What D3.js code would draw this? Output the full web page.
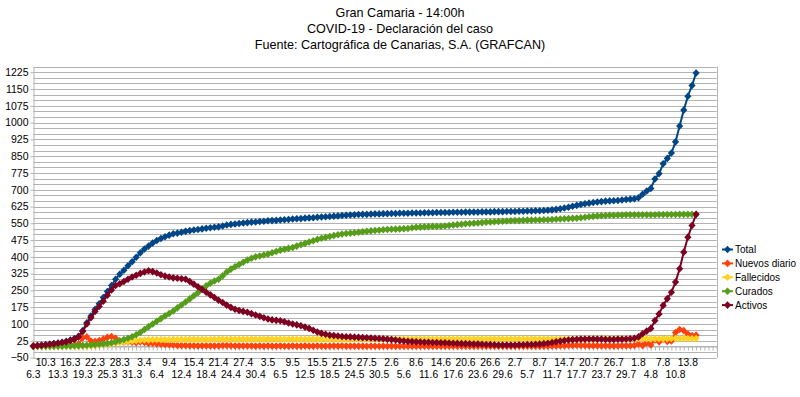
<!DOCTYPE html>
<html><head><meta charset="utf-8">
<script src="https://cdn.jsdelivr.net/npm/d3@7"></script>
<style>
body{margin:0;background:#fff}
svg{display:block}
text{font-family:"Liberation Sans",Arial,sans-serif;fill:#000}
</style>
</head><body>
<svg id="chart" width="800" height="397"></svg>
<script>
// ---- categories (dates); trailing empty slots have no data ----
const categories = [
 "6.3","8.3","9.3","10.3","11.3","12.3","13.3","14.3","15.3","16.3","17.3","18.3","19.3","20.3","21.3","22.3","23.3","24.3","25.3","26.3","27.3","28.3","29.3","30.3","31.3",
 "1.4","2.4","3.4","4.4","5.4","6.4","7.4","8.4","9.4","10.4","11.4","12.4","13.4","14.4","15.4","16.4","17.4","18.4","19.4","20.4","21.4","22.4","23.4","24.4","25.4","26.4","27.4","28.4","29.4","30.4",
 "1.5","2.5","3.5","4.5","5.5","6.5","7.5","8.5","9.5","10.5","11.5","12.5","13.5","14.5","15.5","16.5","17.5","18.5","19.5","20.5","21.5","22.5","23.5","24.5","25.5","26.5","27.5","28.5","29.5","30.5","31.5",
 "1.6","2.6","3.6","4.6","5.6","6.6","7.6","8.6","9.6","10.6","11.6","12.6","13.6","14.6","15.6","16.6","17.6","18.6","19.6","20.6","21.6","22.6","23.6","24.6","25.6","26.6","27.6","28.6","29.6","30.6",
 "1.7","2.7","3.7","4.7","5.7","6.7","7.7","8.7","9.7","10.7","11.7","12.7","13.7","14.7","15.7","16.7","17.7","18.7","19.7","20.7","21.7","22.7","23.7","24.7","25.7","26.7","27.7","28.7","29.7","30.7","31.7",
 "1.8","2.8","3.8","4.8","5.8","6.8","7.8","8.8","9.8","10.8","11.8","12.8","13.8","14.8","15.8",
 "","","","",""
];

const total = [
 1,3,5,7,9,12,15,18,22,28,
 35,45,70,105,135,165,190,218,245,272,
 300,322,340,360,378,398,418,435,448,462,
 473,482,490,497,503,506,510,514,517,520,
 522,525,528,530,532,534,538,542,545,547,
 549,551,553,555,556,558,559,561,562,563,
 565,566,567,569,570,571,573,574,575,577,
 578,579,580,582,583,585,586,587,588,589,
 590,590,591,592,592,593,593,594,594,595,
 595,595,596,596,596,597,597,597,598,598,
 598,598,599,599,599,600,600,600,600,601,
 601,601,602,602,602,603,603,603,604,604,
 605,605,606,606,607,608,610,612,615,618,
 622,626,630,634,637,640,643,645,647,649,
 650,651,652,654,656,658,660,664,680,694,
 706,748,772,816,840,864,914,985,1056,1118,
 1166,1222
];

const nuevos = [
 1,2,2,2,2,3,3,3,4,6,
 7,10,38,42,24,22,26,32,40,44,
 36,22,18,20,18,16,20,17,13,14,
 11,9,8,7,6,4,4,4,3,3,
 2,3,3,2,2,2,4,4,3,2,
 2,2,2,2,1,2,1,2,1,1,
 2,1,1,2,1,1,2,1,1,2,
 1,1,1,2,1,2,1,1,1,1,
 1,0,1,1,0,1,0,1,0,1,
 0,0,1,0,0,1,0,0,1,0,
 0,0,1,0,0,1,0,0,0,1,
 0,0,1,0,0,1,0,0,1,0,
 1,0,1,0,1,1,2,2,3,3,
 4,4,5,4,4,3,3,3,2,3,
 2,2,2,3,3,3,4,10,4,15,
 6,28,20,32,22,24,62,75,70,55,
 48,50
];

const fallecidos = [
 0,0,0,0,0,0,0,0,0,0,
 0,0,1,1,3,4,6,8,10,12,
 15,17,20,22,24,25,27,28,29,30,
 30,30,30,30,31,31,31,31,31,31,
 31,31,31,31,32,32,32,32,32,32,
 32,32,32,32,32,32,32,32,32,32,
 32,32,32,32,32,32,32,32,32,32,
 32,32,32,32,32,32,32,33,33,33,
 33,33,33,33,33,33,33,33,33,33,
 33,33,33,33,33,33,33,33,33,33,
 33,33,33,33,33,33,33,33,33,33,
 33,33,33,33,33,33,33,33,33,33,
 33,33,33,33,33,33,33,33,33,33,
 33,33,33,33,33,33,33,34,34,34,
 34,34,34,34,34,34,34,34,34,34,
 34,34,34,34,34,35,35,35,35,35,
 35,35
];

const curados = [
 0,0,0,0,0,1,1,1,2,2,
 3,3,4,5,6,7,9,11,13,16,
 20,25,30,36,43,52,62,75,88,100,
 112,124,136,147,158,172,185,198,212,226,
 240,256,270,282,292,300,315,332,345,356,
 366,376,386,394,400,404,408,412,418,424,
 430,434,438,442,448,454,460,466,472,478,
 483,487,491,495,499,502,504,506,508,510,
 512,514,516,518,519,521,522,523,524,525,
 526,527,530,532,533,534,535,536,536,537,
 538,540,542,544,546,548,549,550,551,553,
 555,556,557,558,559,560,561,562,562,563,
 564,564,565,565,566,566,567,568,569,570,
 571,572,573,575,577,579,581,583,584,585,
 586,586,587,587,588,588,588,588,588,588,
 588,588,589,589,589,589,589,590,590,590,
 590,590
];

const activos = [
 1,3,5,7,9,11,14,17,20,26,
 32,42,66,100,128,156,178,202,228,252,
 272,280,290,300,310,318,326,332,338,334,
 328,320,314,310,306,304,302,300,290,278,
 266,254,242,230,218,206,196,184,174,166,
 160,156,152,146,140,134,128,122,118,116,
 114,110,104,100,96,92,86,80,72,64,
 58,54,50,48,46,44,43,42,41,40,
 39,38,37,36,35,34,32,30,28,26,
 24,22,21,20,19,18,18,17,17,16,
 16,15,14,13,12,12,11,10,10,9,
 8,8,7,6,6,6,6,6,7,7,
 8,8,9,10,12,14,17,20,23,26,
 28,30,31,32,32,33,33,32,32,31,
 31,31,32,32,33,34,36,42,56,68,
 80,115,145,183,213,242,287,347,421,488,
 540,590
];

const seriesNames = ["Total","Nuevos diario","Fallecidos","Curados","Activos"];
const seriesColors = ["#004586","#ff420e","#ffd320","#579d1c","#7e0021"];
const seriesValues = [total, nuevos, fallecidos, curados, activos];

const yTickLabels = d3.range(-50, 1226, 75);
const yGrid = d3.range(-50, 1251, 25);
const titleLines = ["Gran Camaria - 14:00h","COVID-19 - Declaración del caso","Fuente: Cartográfica de Canarias, S.A. (GRAFCAN)"];

// ---- drawing ----
const FONT = '"Liberation Sans",Arial,sans-serif';
const svg = d3.select("#chart");
const x = d3.scalePoint().domain(d3.range(categories.length)).range([33.3, 716.7]);
const y = d3.scaleLinear().domain([-50, 1250]).range([357.5, 66.7]);
const [x0, x1] = x.range();

// gridlines
svg.append("g").selectAll("line").data(yGrid).join("line")
  .attr("x1", x0).attr("x2", x1)
  .attr("y1", d => Math.round(y(d)) + 0.5).attr("y2", d => Math.round(y(d)) + 0.5)
  .attr("stroke", "#b3b3b3").attr("stroke-width", 1);

// right wall line
svg.append("line").attr("x1", Math.round(x1)+0.5).attr("x2", Math.round(x1)+0.5)
  .attr("y1", y(1250)).attr("y2", y(-50)).attr("stroke", "#b3b3b3");

// y axis
const yAxis = svg.append("g").attr("transform", `translate(${Math.round(x0)+0.5},0)`)
  .call(d3.axisLeft(y).tickValues(yTickLabels).tickFormat(d3.format("d"))
        .tickSize(3).tickSizeOuter(0).tickPadding(2));
yAxis.select(".domain").attr("stroke", "#b3b3b3");
yAxis.selectAll(".tick line").attr("stroke", "#b3b3b3");
yAxis.selectAll(".tick text").attr("font-size", 10.5).attr("font-family", FONT).attr("fill", "#000");

// x axis at value 0
const xAxis = svg.append("g").attr("transform", `translate(0,${Math.round(y(0))+0.5})`)
  .call(d3.axisBottom(x).tickSize(4).tickSizeOuter(0).tickFormat(""));
xAxis.select(".domain").attr("stroke", "#b3b3b3");
xAxis.selectAll(".tick line").attr("stroke", "#b3b3b3");

// x labels, every 3rd category, staggered in two rows
const labelIdx = d3.range(0, categories.length, 3).filter(i => categories[i] !== "");
svg.append("g").selectAll("text").data(labelIdx).join("text")
  .attr("x", i => x(i))
  .attr("y", i => ((i / 3) % 2 === 1) ? 365.5 : 377.5)
  .attr("text-anchor", "middle").attr("font-size", 10.3)
  .text(i => categories[i]);

// series
const diamond = "M0,-3.8L3.6,0L0,3.8L-3.6,0Z";
seriesValues.forEach((vals, s) => {
  const g = svg.append("g");
  const line = d3.line().x((d, i) => x(i)).y(d => y(d));
  g.append("path").datum(vals).attr("d", line)
    .attr("fill", "none").attr("stroke", seriesColors[s]).attr("stroke-width", 2)
    .attr("stroke-linejoin", "round");
  g.selectAll("path.m").data(vals).join("path").attr("class", "m")
    .attr("d", diamond)
    .attr("transform", (d, i) => `translate(${x(i)},${y(d)})`)
    .attr("fill", seriesColors[s]);
});

// legend
const leg = svg.append("g");
seriesNames.forEach((n, s) => {
  const ly = 249.5 + s * 13.9;
  leg.append("line").attr("x1", 722).attr("x2", 733).attr("y1", ly).attr("y2", ly)
    .attr("stroke", seriesColors[s]).attr("stroke-width", 2);
  leg.append("path").attr("d", diamond).attr("transform", `translate(727.5,${ly})`).attr("fill", seriesColors[s]);
  leg.append("text").attr("x", 735).attr("y", ly + 3.8).attr("font-size", 10).text(n);
});

// title
svg.append("g").selectAll("text").data(titleLines).join("text")
  .attr("x", 400).attr("y", (d, i) => 16.5 + i * 16)
  .attr("text-anchor", "middle").attr("font-size", 12.6)
  .text(d => d);
</script>
</body></html>
